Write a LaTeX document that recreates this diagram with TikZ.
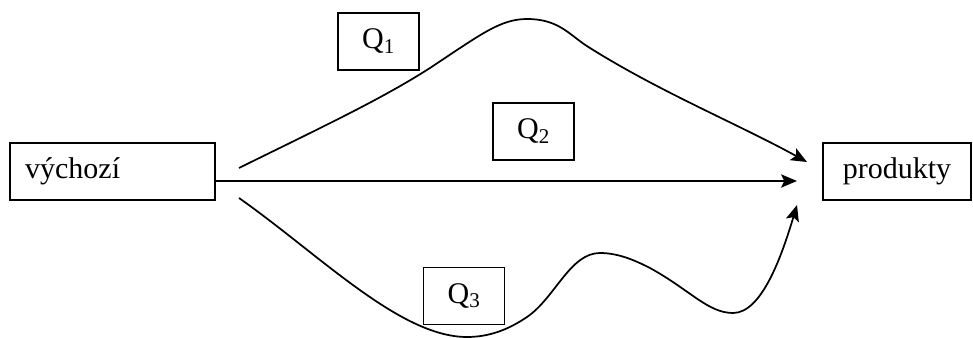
\documentclass[tikz,border=0pt]{standalone}
\usepackage{fontspec}
\setmainfont{Liberation Serif}
\usetikzlibrary{arrows.meta}
\tikzset{
	qbox/.style={draw, line width=1pt, minimum width=60.75pt, minimum height=42.75pt, inner sep=0pt},
	endbox/.style={draw, line width=1pt, minimum height=42.75pt, inner sep=0pt},
	flow/.style={line width=1.3pt, -{Stealth[length=12pt,width=10pt,inset=2.5pt]}}
}
\begin{document}
\begin{tikzpicture}[x=0.75pt,y=-0.75pt,font=\fontsize{22.5}{27}\selectfont]
		\useasboundingbox (0,0) rectangle (973,338);
		\node[endbox, minimum width=153.75pt, text width=131pt, align=left] (V) at (112.5,171.5) {výchozí};
		\node[endbox, minimum width=111pt] (P) at (897,171.5) {produkty};
		\node[qbox] (Q1) at (378.5,41.5) {Q\textsubscript{1}};
		\node[qbox] (Q2) at (533.5,131.5) {Q\textsubscript{2}};
		\node[qbox] (Q3) at (464,296) {Q\textsubscript{3}};
		\coordinate (A) at (239,168);
		\coordinate (B) at (215,181);
		\coordinate (C) at (239,198);
		\coordinate (D) at (807,162);
		\coordinate (E) at (797,181);
		\coordinate (F) at (797,205);
		\draw[flow] (A) .. controls (320,128) and (380,100) .. (430,68)
			.. controls (480,35) and (500,19) .. (527,19)
			.. controls (560,19) and (570,36) .. (590,48)
			.. controls (660,92) and (740,125) .. (D);
		\draw[flow] (B) -- (E);
		\draw[flow] (C) .. controls (320,255) and (400,337) .. (467,337)
			.. controls (495,337) and (515,325) .. (527,317)
			.. controls (555,298) and (570,253) .. (600,253)
			.. controls (620,253) and (638,262) .. (650,268)
			.. controls (690,290) and (708,313) .. (733,313)
			.. controls (762,313) and (782,255) .. (F);
	\end{tikzpicture}
\end{document}
